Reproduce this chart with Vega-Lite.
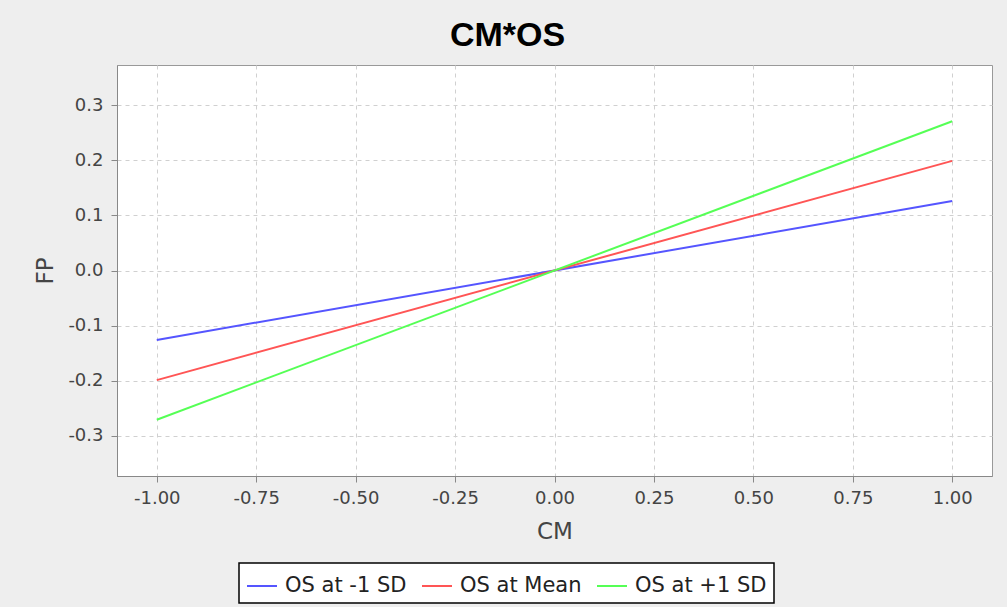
{
  "$schema": "https://vega.github.io/schema/vega-lite/v6.json",
  "autosize": "none",
  "width": 875,
  "height": 411,
  "padding": {"left": 117, "top": 65, "right": 15, "bottom": 131},
  "background": "#EEEEEE",
  "title": {
    "text": "CM*OS",
    "font": "Liberation Sans",
    "fontSize": 34,
    "fontWeight": "bold",
    "color": "#000000",
    "anchor": "middle",
    "baseline": "alphabetic",
    "offset": 19,
    "dx": -47,
    "dy": 34
  },
  "data": {
    "values": [
      {"CM": -1, "FP": -0.126, "series": "OS at -1 SD"},
      {"CM": 1, "FP": 0.126, "series": "OS at -1 SD"},
      {"CM": -1, "FP": -0.199, "series": "OS at Mean"},
      {"CM": 1, "FP": 0.199, "series": "OS at Mean"},
      {"CM": -1, "FP": -0.271, "series": "OS at +1 SD"},
      {"CM": 1, "FP": 0.271, "series": "OS at +1 SD"}
    ]
  },
  "mark": {"type": "line", "strokeWidth": 2, "clip": true},
  "encoding": {
    "x": {
      "field": "CM",
      "type": "quantitative",
      "scale": {"domain": [-1.1, 1.1], "nice": false, "zero": false},
      "axis": {
        "title": "CM",
        "values": [-1, -0.75, -0.5, -0.25, 0, 0.25, 0.5, 0.75, 1],
        "format": ".2f",
        "labelExpr": "replace(datum.label, '\u2212', '-')",
        "labelPadding": 7,
        "titleBaseline": "alphabetic",
        "titleY": 62
      }
    },
    "y": {
      "field": "FP",
      "type": "quantitative",
      "scale": {"domain": [-0.373, 0.373], "nice": false, "zero": false},
      "axis": {
        "title": "FP",
        "values": [-0.3, -0.2, -0.1, 0, 0.1, 0.2, 0.3],
        "format": ".1f",
        "labelExpr": "replace(datum.label, '\u2212', '-')",
        "labelPadding": 8,
        "titleBaseline": "alphabetic",
        "titleX": -65,
        "titleY": 205.5
      }
    },
    "color": {
      "field": "series",
      "type": "nominal",
      "scale": {
        "domain": ["OS at -1 SD", "OS at Mean", "OS at +1 SD"],
        "range": ["#5555FF", "#FF5555", "#55FF55"]
      },
      "legend": {
        "title": null,
        "orient": "none",
        "direction": "horizontal",
        "legendX": 122,
        "legendY": 498
      }
    }
  },
  "config": {
    "view": {"fill": "#FFFFFF", "stroke": "#999999", "strokeWidth": 1},
    "axis": {
      "labelFont": "DejaVu Sans",
      "labelFontSize": 18,
      "labelColor": "#444444",
      "titleFont": "DejaVu Sans",
      "titleFontSize": 23,
      "titleFontWeight": "normal",
      "titleColor": "#444444",
      "domainColor": "#888888",
      "tickColor": "#888888",
      "tickSize": 6,
      "grid": true,
      "gridColor": "#D0D0D0",
      "gridDash": [4, 4],
      "gridWidth": 1
    },
    "legend": {
      "labelFont": "DejaVu Sans",
      "labelFontSize": 21,
      "labelColor": "#222222",
      "labelOffset": 7,
      "symbolType": "stroke",
      "symbolSize": 900,
      "symbolStrokeWidth": 2,
      "columnPadding": 11,
      "padding": 7,
      "strokeColor": "#000000",
      "strokeWidth": 1.5,
      "fillColor": "#FFFFFF"
    }
  }
}
